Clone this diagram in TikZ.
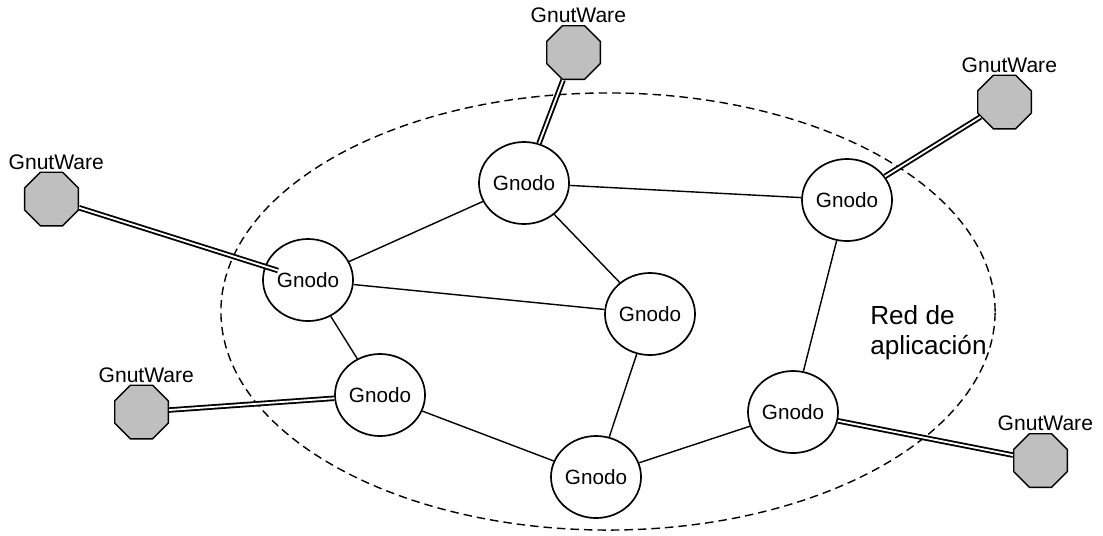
\documentclass[tikz,border=0pt]{standalone}
\usepackage{fontspec}
\setmainfont{Liberation Sans}
\usetikzlibrary{shapes.geometric}

\begin{document}
\begin{tikzpicture}[x=0.025cm, y=-0.025cm,
		gnodo/.style={draw, ellipse, line width=1.2pt, fill=white, inner sep=0pt,
			minimum width=2.25cm, minimum height=2.05cm,
			font=\fontsize{14.7}{17}\selectfont},
		gnut/.style={draw, regular polygon, regular polygon sides=8, line width=1pt,
			fill=black!25, inner sep=0pt, minimum size=1.45cm,
			label={[label distance=0.04cm, inner sep=0pt, xshift=0.12cm,
				font=\fontsize{15}{17}\selectfont]above:GnutWare}},
		enlace/.style={line width=1pt},
		doble/.style={double, line width=1.3pt, double distance=1.3pt}]
		
		% Frame
		\useasboundingbox (0,0) rectangle (1103,535);
		
		% Application network
		\draw[dashed, line width=1pt, dash pattern=on 6pt off 3.6pt]
		(608,311.5) ellipse [x radius=9.675cm, y radius=5.4625cm];
		\node[anchor=north west, inner sep=0pt, align=left,
			font=\fontsize{18.6}{21.3}\selectfont] (red) at (870,305) {Red de\\aplicación};
		
		% Gnodos
		\node[gnodo] (n1) at (524,183) {Gnodo};
		\node[gnodo] (n2) at (308,280) {Gnodo};
		\node[gnodo] (n3) at (650,314) {Gnodo};
		\node[gnodo] (n4) at (847,200) {Gnodo};
		\node[gnodo] (n5) at (380,395) {Gnodo};
		\node[gnodo] (n6) at (596,477) {Gnodo};
		\node[gnodo] (n7) at (793,412) {Gnodo};
		
		% GnutWare clients
		\node[gnut] (w1) at (573.5,52.5) {};
		\node[gnut] (w2) at (1004.5,102) {};
		\node[gnut] (w3) at (51.5,199) {};
		\node[gnut] (w4) at (141.5,412) {};
		\node[gnut] (w5) at (1040.5,460.5) {};
		
		% Links between gnodos
		\foreach \a/\b in {n1/n2, n1/n4, n1/n3, n2/n3, n2/n5, n4/n7, n5/n6, n3/n6, n6/n7} {
			\draw[enlace] (\a) -- (\b);
		}
		
		% Client links
		\foreach \a/\b in {w1/n1, w2/n4, w4/n5, w5/n7} {
			\draw[doble] (\a) -- (\b);
		}
		\draw[doble, shorten >=-0.35cm] (w3) -- (n2);
		
	\end{tikzpicture}
\end{document}
